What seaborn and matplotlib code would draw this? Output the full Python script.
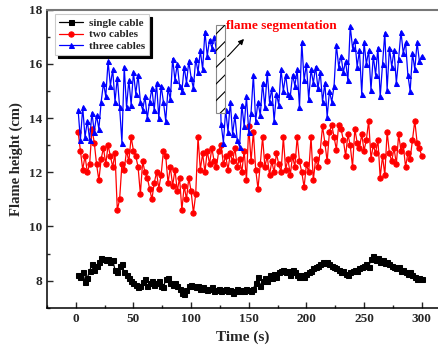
import numpy as np
import pandas as pd
import matplotlib.pyplot as plt
import seaborn as sns
from matplotlib.patches import Rectangle
from matplotlib.ticker import MultipleLocator

# time axis (s), one sample every 2 s
time_s = np.arange(2, 302, 2)

single_cable = [
    8.2, 8.15, 8.3, 7.95, 8.1, 8.35, 8.6, 8.4, 8.55, 8.7,
    8.85, 8.8, 8.75, 8.8, 8.7, 8.75, 8.4, 8.3, 8.55, 8.6,
    8.3, 8.2, 8.1, 8.0, 7.9, 7.85, 7.75, 7.8, 7.95, 8.05,
    7.8, 7.9, 8.0, 7.85, 7.9, 8.0, 7.8, 7.75, 8.05, 8.1,
    7.9, 7.85, 7.9, 7.8, 7.7, 7.55, 7.5, 7.65, 7.8, 7.85,
    7.8, 7.75, 7.8, 7.7, 7.75, 7.7, 7.65, 7.7, 7.75, 7.6,
    7.65, 7.7, 7.6, 7.65, 7.7, 7.6, 7.65, 7.55, 7.6, 7.7,
    7.6, 7.65, 7.6, 7.7, 7.65, 7.6, 7.7, 7.9, 8.15, 7.8,
    8.0, 8.1, 8.0, 8.2, 8.1, 8.25, 8.15, 8.3, 8.35, 8.4,
    8.3, 8.35, 8.2, 8.4, 8.3, 8.2, 8.15, 8.2, 8.15, 8.25,
    8.3, 8.35, 8.45, 8.5, 8.55, 8.6, 8.7, 8.65, 8.7, 8.6,
    8.55, 8.5, 8.45, 8.4, 8.3, 8.35, 8.25, 8.2, 8.3, 8.35,
    8.4, 8.35, 8.45, 8.5, 8.55, 8.6, 8.5, 8.8, 8.9, 8.75,
    8.85, 8.7, 8.75, 8.65, 8.7, 8.6, 8.55, 8.5, 8.45, 8.5,
    8.35, 8.4, 8.3, 8.25, 8.3, 8.2, 8.15, 8.05, 8.1, 8.05,
]

two_cables = [
    13.5, 12.8, 12.1, 12.6, 12.0, 12.3, 13.6, 13.1, 12.3, 11.7,
    12.5, 12.9, 12.3, 13.0, 12.6, 12.2, 12.7, 10.6, 11.0, 12.3,
    12.1, 12.8, 12.4, 13.3, 12.8, 12.6, 12.2, 11.2, 12.4, 12.0,
    11.8, 11.4, 11.0, 11.6, 12.0, 11.4, 11.9, 12.8, 12.6, 11.6,
    12.2, 11.5, 12.1, 11.3, 11.8, 10.6, 11.5, 11.0, 11.8, 11.3,
    10.5, 11.2, 13.3, 12.1, 12.7, 12.0, 12.8, 12.3, 12.9, 12.4,
    12.2, 12.8, 13.0, 12.3, 12.6, 12.1, 12.7, 12.4, 12.9, 12.2,
    12.5, 12.0, 12.8, 11.7, 13.7, 12.4, 13.5, 12.1, 11.4, 12.3,
    13.3, 12.2, 12.6, 11.9, 12.4, 12.0, 12.7, 12.3, 12.0, 13.3,
    12.1, 12.5, 11.9, 12.6, 12.2, 13.3, 12.4, 12.0, 11.45, 12.3,
    12.0, 13.3, 11.7, 12.5, 12.2, 12.8, 13.7, 13.1, 12.4, 13.5,
    13.75, 13.3, 12.84, 13.75, 13.6, 13.2, 12.6, 13.4, 13.0, 12.2,
    13.6, 13.1, 12.9, 13.4, 12.8, 13.2, 13.9, 12.5, 13.0, 12.7,
    13.2, 11.8, 12.6, 11.9, 13.5, 12.7, 12.4, 12.9, 12.3, 13.4,
    12.8, 13.0, 12.2, 12.7, 12.5, 13.2, 13.9, 13.1, 12.9, 12.6,
]

three_cables = [
    14.3, 13.2, 14.4, 13.3, 13.9, 13.2, 14.2, 13.5, 14.1, 13.6,
    14.6, 15.3, 14.8, 16.1, 15.2, 15.8, 14.6, 15.5, 14.4, 13.1,
    15.9, 14.4, 15.4, 14.5, 15.7, 14.9, 15.6, 14.6, 14.3, 14.8,
    14.0, 14.6, 15.1, 14.3, 15.3, 14.0, 15.2, 14.6, 13.9, 15.1,
    14.7, 16.2, 15.4, 16.0, 15.2, 15.0, 15.9, 15.3, 16.1, 15.5,
    15.1, 16.2, 15.7, 16.5, 15.8, 17.2, 16.3, 16.9, 16.6, 17.0,
    16.5, 17.2, 13.8, 13.1, 14.3, 13.5, 14.6, 13.4, 14.1, 13.2,
    12.95, 14.5, 13.7, 14.8, 13.5,
    14.2, 15.6, 13.9, 14.6, 14.1, 15.3, 14.4, 15.7, 14.6, 15.1,
    13.9, 14.9, 14.5, 15.8, 15.0, 15.6, 14.9, 14.8, 15.6, 15.2,
    15.8, 14.4, 16.8, 15.4, 16.0, 14.7, 15.8, 15.3, 15.9, 15.1,
    15.7, 14.6, 15.3, 14.05, 15.0, 14.6, 15.2, 16.7, 15.9, 16.3,
    15.7, 16.1, 15.4, 17.4, 16.6, 16.9, 15.9, 16.5, 14.9, 16.8,
    16.0, 16.5, 15.05, 16.3, 15.6, 16.6, 14.8, 16.0, 17.15, 15.05,
    16.6, 15.9, 16.5, 15.3, 16.2, 17.2, 16.4, 16.8, 15.6, 15.0,
    16.4, 15.8, 16.8, 16.1, 16.3,
]

series_names = ["single cable", "two cables", "three cables"]
x_ticks = [0, 50, 100, 150, 200, 250, 300]
y_ticks = [8, 10, 12, 14, 16, 18]

df = pd.DataFrame({"Time": time_s, "single cable": single_cable,
                   "two cables": two_cables, "three cables": three_cables})

sns.set_style("ticks")
plt.rcParams['font.family'] = ['Liberation Serif', 'DejaVu Serif']
plt.rcParams['font.weight'] = 'bold'
plt.rcParams['axes.labelweight'] = 'bold'
plt.rcParams['hatch.linewidth'] = 0.8

fig = plt.figure(figsize=(4.39, 3.52), dpi=100)
ax = fig.add_axes([0.107, 0.126, 0.893, 0.846])

styles = {
    "single cable": ("black", "s", 3.6),
    "two cables": ("red", "o", 3.8),
    "three cables": ("blue", "^", 3.6),
}
for name in series_names:
    col, mk, ms = styles[name]
    sns.lineplot(data=df, x="Time", y=name, ax=ax, color=col, marker=mk,
                 markersize=ms, markeredgecolor=col, linewidth=0.9,
                 label=name)

# flame segmentation marker
ax.add_patch(Rectangle((122, 14.2), 7, 3.25, facecolor='white',
                       edgecolor='#888888', lw=0.8, zorder=5))
ax.add_patch(Rectangle((122, 14.2), 7, 3.25, fill=False,
                       edgecolor='black', lw=0, hatch='//', zorder=6))
ax.annotate('', xy=(147.5, 17.0), xytext=(130, 16.2),
            arrowprops=dict(arrowstyle='-|>', color='black', lw=0.8,
                            mutation_scale=8), zorder=7)
ax.text(130, 17.4, 'flame segmentation', color='red', fontsize=9.5,
        fontweight='bold', va='center', ha='left', zorder=7)

ax.set_xlim(-25, 315)
ax.set_ylim(7, 18)
ax.set_xticks(x_ticks)
ax.set_yticks(y_ticks)
ax.xaxis.set_minor_locator(MultipleLocator(25))
ax.yaxis.set_minor_locator(MultipleLocator(1))
ax.tick_params(which='both', direction='in', labelsize=9.5, width=1)
ax.tick_params(which='major', length=4)
ax.tick_params(which='minor', length=2.5)
ax.set_xlabel("Time (s)", fontsize=11, fontweight='bold')
ax.set_ylabel("Flame height (cm)", fontsize=10.5, fontweight='bold')

for s in ['left', 'bottom']:
    ax.spines[s].set_color('black')
    ax.spines[s].set_linewidth(1.1)
ax.spines['top'].set_color('#777777')
ax.spines['top'].set_linewidth(1.5)
ax.spines['right'].set_color('#777777')

leg = ax.legend(loc='upper left', bbox_to_anchor=(0.02, 0.987),
                borderaxespad=0, fontsize=8, labelspacing=0.15,
                handlelength=2.1, handletextpad=0.55, fancybox=False,
                shadow={'color': 'black', 'alpha': 1}, framealpha=1,
                edgecolor='#cccccc', borderpad=0.4)
leg.get_frame().set_linewidth(0.8)

plt.savefig("out.png", dpi=100)
